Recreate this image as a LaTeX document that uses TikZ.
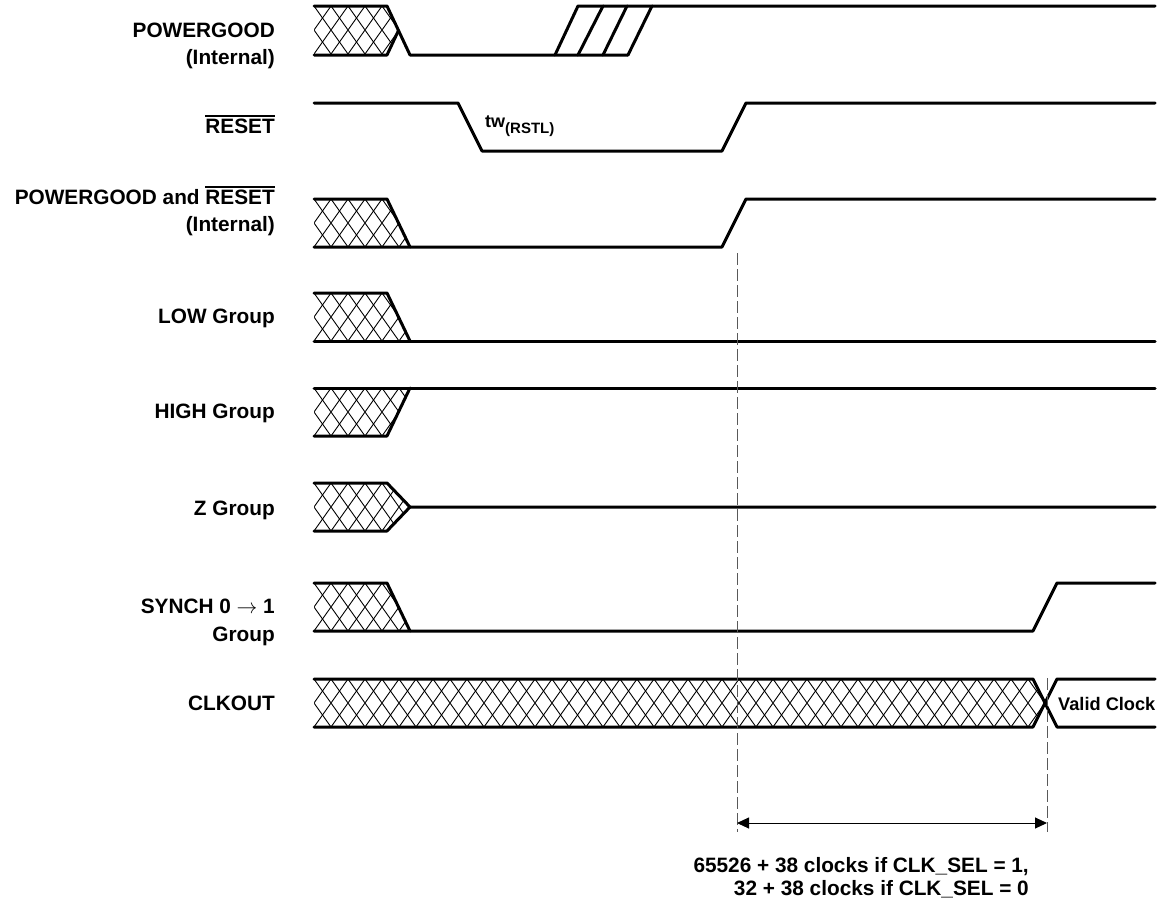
\documentclass[tikz,border=0pt]{standalone}
\usepackage{fontspec}
\setmainfont{Liberation Sans}
\usetikzlibrary{arrows.meta}
\newcommand\myovl[1]{\leavevmode\vbox{\hrule height 1.4pt\kern1.6pt\hbox{#1}}}
\newcommand\hatchrow[2]{%
  \foreach \x in {280,297,...,#2} {\draw[hl] (\x,#1) -- ++(34,48) (\x+34,#1) -- ++(-34,48);}}
\tikzset{
  sig/.style={line width=3pt, line cap=round, line join=round},
  hl/.style={line width=0.9pt},
  lbl/.style={font=\fontsize{20.8}{25}\selectfont\bfseries, anchor=base east, inner sep=0pt},
  guide/.style={black!65, line width=1pt, dash pattern=on 12pt off 4pt},
  dimline/.style={line width=1pt, {Triangle[length=12pt,width=11pt]}-{Triangle[length=12pt,width=11pt]}},
}
\begin{document}
\begin{tikzpicture}[x=1pt,y=-1pt]
\useasboundingbox[fill=white] (0,0) rectangle (1162,905);

% ---------- labels ----------
\node[lbl] (l1a) at (275,37) {POWERGOOD};
\node[lbl] (l1b) at (275,64) {(Internal)};
\node[lbl] (l2) at (275,133) {\myovl{RESET}};
\node[lbl] (l3a) at (275,204) {POWERGOOD and \myovl{RESET}};
\node[lbl] (l3b) at (275,231) {(Internal)};
\node[lbl] (l4) at (275,323) {LOW Group};
\node[lbl] (l5) at (275,418) {HIGH Group};
\node[lbl] (l6) at (275,515) {Z Group};
\node[lbl] (l7a) at (275,613) {SYNCH 0 $\rightarrow$ 1};
\node[lbl] (l7b) at (275,641) {Group};
\node[lbl] (l8) at (275,710) {CLKOUT};

% ---------- row 1: POWERGOOD ----------
\begin{scope}
\clip (314,6) -- (387,6) -- (398.5,30.5) -- (387,55) -- (314,55) -- cycle;
\hatchrow{6}{400}
\end{scope}
\draw[sig] (314,6) -- (387,6) -- (410,55) -- (628,55);
\draw[sig] (314,55) -- (387,55) -- (398.5,30.5);
\draw[sig] (555,55) -- (578,6) -- (1155,6);
\draw[sig] (578,55) -- (603,6);
\draw[sig] (603,55) -- (627,6);
\draw[sig] (628,55) -- (652,6);

% ---------- row 2: RESET ----------
\draw[sig] (314,103) -- (458,103) -- (482,151) -- (722,151) -- (746,103) -- (1155,103);
\node[font=\fontsize{18}{20}\selectfont\bfseries, anchor=base west, inner sep=0pt] (tw) at (485,127)
  {tw\raisebox{-6pt}{\fontsize{15}{16}\selectfont (RSTL)}};

% ---------- row 3: POWERGOOD and RESET ----------
\begin{scope}
\clip (314,199) -- (387,199) -- (410,247) -- (314,247) -- cycle;
\hatchrow{199}{400}
\end{scope}
\draw[sig] (314,199) -- (387,199) -- (410,247);
\draw[sig] (314,247) -- (722,247) -- (746,199) -- (1155,199);

% ---------- row 4: LOW ----------
\begin{scope}
\clip (314,293) -- (387,293) -- (410,341) -- (314,341) -- cycle;
\hatchrow{293}{400}
\end{scope}
\draw[sig] (314,293) -- (387,293) -- (410,341);
\draw[sig] (314,341) -- (1155,341);

% ---------- row 5: HIGH ----------
\begin{scope}
\clip (314,388) -- (410,388) -- (387,436) -- (314,436) -- cycle;
\hatchrow{388}{400}
\end{scope}
\draw[sig] (314,388) -- (1155,388);
\draw[sig] (314,436) -- (387,436) -- (410,388);

% ---------- row 6: Z ----------
\begin{scope}
\clip (314,483) -- (387,483) -- (410,507) -- (387,531) -- (314,531) -- cycle;
\hatchrow{483}{400}
\end{scope}
\draw[sig] (314,483) -- (387,483) -- (410,507) -- (1155,507);
\draw[sig] (314,531) -- (387,531) -- (410,507);

% ---------- row 7: SYNCH ----------
\begin{scope}
\clip (314,583) -- (387,583) -- (410,631) -- (314,631) -- cycle;
\hatchrow{583}{400}
\end{scope}
\draw[sig] (314,583) -- (387,583) -- (410,631);
\draw[sig] (314,631) -- (1033,631) -- (1057,583) -- (1155,583);

% ---------- row 8: CLKOUT ----------
\begin{scope}
\clip (314,679) -- (1033,679) -- (1045,703) -- (1033,727) -- (314,727) -- cycle;
\hatchrow{679}{1050}
\end{scope}
\draw[sig] (314,679) -- (1033,679) -- (1057,727) -- (1155,727);
\draw[sig] (314,727) -- (1033,727) -- (1057,679) -- (1155,679);
\node[font=\fontsize{18.2}{20}\selectfont\bfseries, anchor=base west, inner sep=0pt] (vc) at (1058,710) {Valid Clock};

% ---------- guides and dimension ----------
\coordinate (g1t) at (737,253);
\coordinate (g1b) at (737,832);
\coordinate (g2t) at (1047,678);
\coordinate (g2b) at (1047,832);
\coordinate (aL) at (737,823);
\coordinate (aR) at (1047,823);
\draw[guide] (g1t) -- (g1b);
\draw[guide] (g2t) -- (g2b);
\draw[dimline] (aL) -- (aR);

\node[lbl, anchor=base east] (t1) at (1029,872) {65526 + 38 clocks if CLK\_SEL = 1,};
\node[lbl, anchor=base east] (t2) at (1029,895) {32 + 38 clocks if CLK\_SEL = 0};
\end{tikzpicture}
\end{document}
